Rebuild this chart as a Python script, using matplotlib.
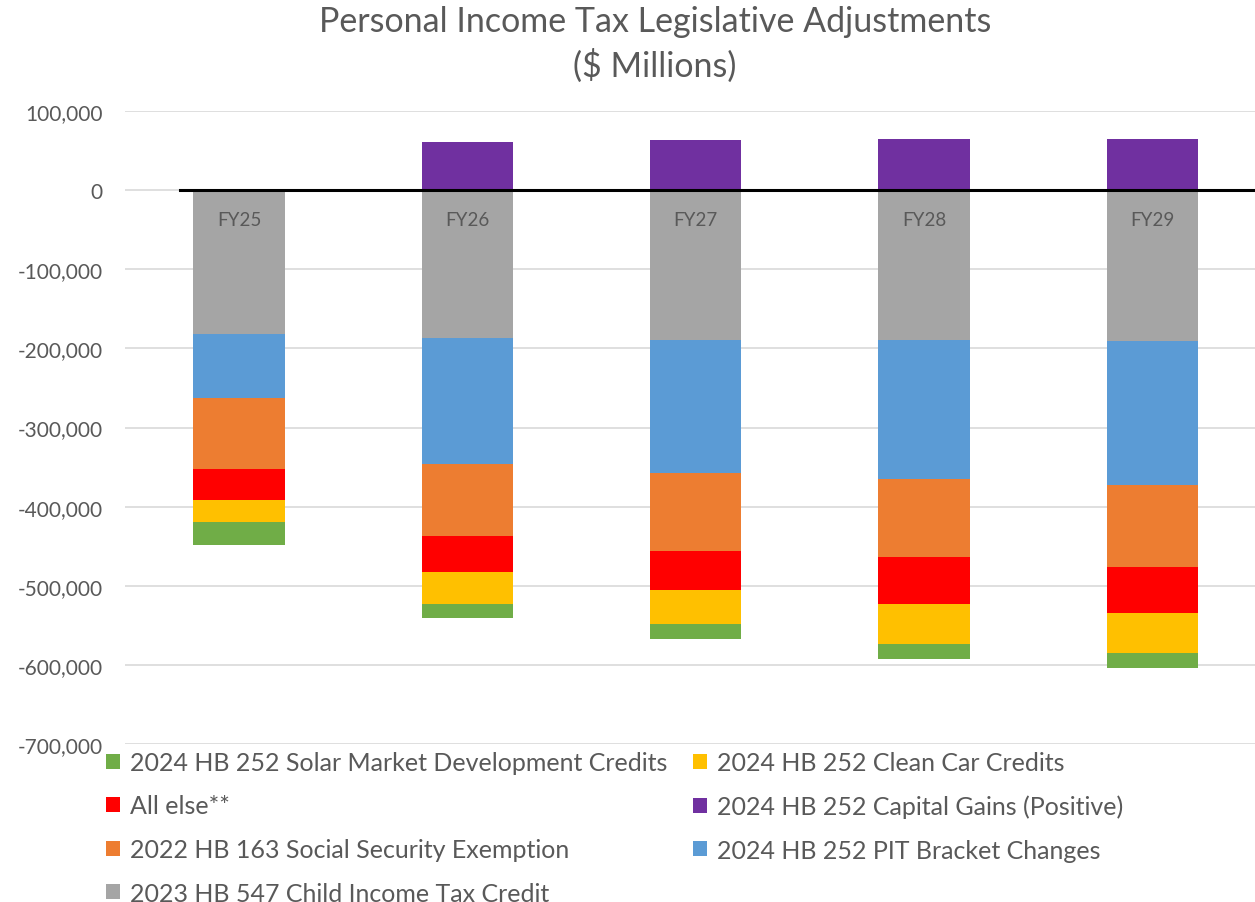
import numpy as np
import matplotlib.pyplot as plt
from matplotlib.ticker import FuncFormatter
from matplotlib.patches import Patch

plt.rcParams['font.family'] = ['Lato', 'DejaVu Sans']

years = ['FY25', 'FY26', 'FY27', 'FY28', 'FY29']

# stacked from zero downwards
child_credit = [-182300, -186700, -189200, -189200, -191300]
pit_brackets = [-80700, -159300, -167800, -175300, -181700]
social_security = [-90000, -91400, -99000, -98600, -103600]
all_else = [-39000, -44600, -48800, -59900, -58200]
clean_car = [-27000, -41000, -43500, -50600, -50500]
solar = [-30000, -18000, -18500, -18400, -18100]
# positive
capital_gains = [0, 60300, 62800, 64900, 64900]

names = {
    'solar': '2024 HB 252 Solar Market Development Credits',
    'car': '2024 HB 252 Clean Car Credits',
    'else': 'All else**',
    'cap': '2024 HB 252 Capital Gains (Positive)',
    'ss': '2022 HB 163 Social Security Exemption',
    'pit': '2024 HB 252 PIT Bracket Changes',
    'child': '2023 HB 547 Child Income Tax Credit',
}
colors = {
    'solar': '#70ad47', 'car': '#ffc000', 'else': '#ff0000', 'cap': '#7030a0',
    'ss': '#ed7d31', 'pit': '#5b9bd5', 'child': '#a5a5a5',
}

text_color = '#595959'

fig = plt.figure(figsize=(12.55, 9.03), dpi=100)
ax = fig.add_axes([125 / 1255, 1 - 745 / 903, 1 - 125 / 1255, (745 - 112) / 903])

x = np.arange(len(years))
w = 0.40
bottom = np.zeros(len(years))
for key, vals in [('child', child_credit), ('pit', pit_brackets), ('ss', social_security),
                  ('else', all_else), ('car', clean_car), ('solar', solar)]:
    vals = np.array(vals, dtype=float)
    ax.bar(x, vals, w, bottom=bottom, color=colors[key], zorder=2)
    bottom += vals
ax.bar(x, capital_gains, w, color=colors['cap'], zorder=2)

for xi, yr in zip(x, years):
    ax.text(xi, -37000, yr, ha='center', va='center', fontsize=13.5, color=text_color, zorder=4)

ax.set_xlim(-0.5, 4.45)
ax.set_ylim(-700000, 100000)
ax.set_yticks(np.arange(-700000, 100001, 100000))
ax.yaxis.set_major_formatter(FuncFormatter(lambda v, p: f'{int(v):,}'))
ax.tick_params(axis='y', length=0, labelsize=15, labelcolor=text_color, pad=16)
ax.set_xticks([])
ax.grid(axis='y', color='#d9d9d9', lw=1.2, zorder=0)
for s in ax.spines.values():
    s.set_visible(False)

# zero line
ax.plot([-0.26, 4.45], [0, 0], color='black', lw=2.2, zorder=3, clip_on=False)

fig.text(0.522, 1 - 22 / 903, 'Personal Income Tax Legislative Adjustments', ha='center', va='center',
         fontsize=24.5, color=text_color)
fig.text(0.522, 1 - 66 / 903, '($ Millions)', ha='center', va='center', fontsize=24.5, color=text_color)

order = ['solar', 'else', 'ss', 'child', 'car', 'cap', 'pit']
handles = [Patch(facecolor=colors[k], label=names[k]) for k in order]
fig.legend(handles=handles, loc='upper left', bbox_to_anchor=(106 / 1255, 1 - 752 / 903), ncol=2,
           frameon=False, fontsize=18, labelcolor=text_color, handlelength=0.55, handleheight=0.55,
           handletextpad=0.4, labelspacing=0.82, columnspacing=1.05, borderaxespad=0, borderpad=0)

fig.savefig('out.png', dpi=100)
